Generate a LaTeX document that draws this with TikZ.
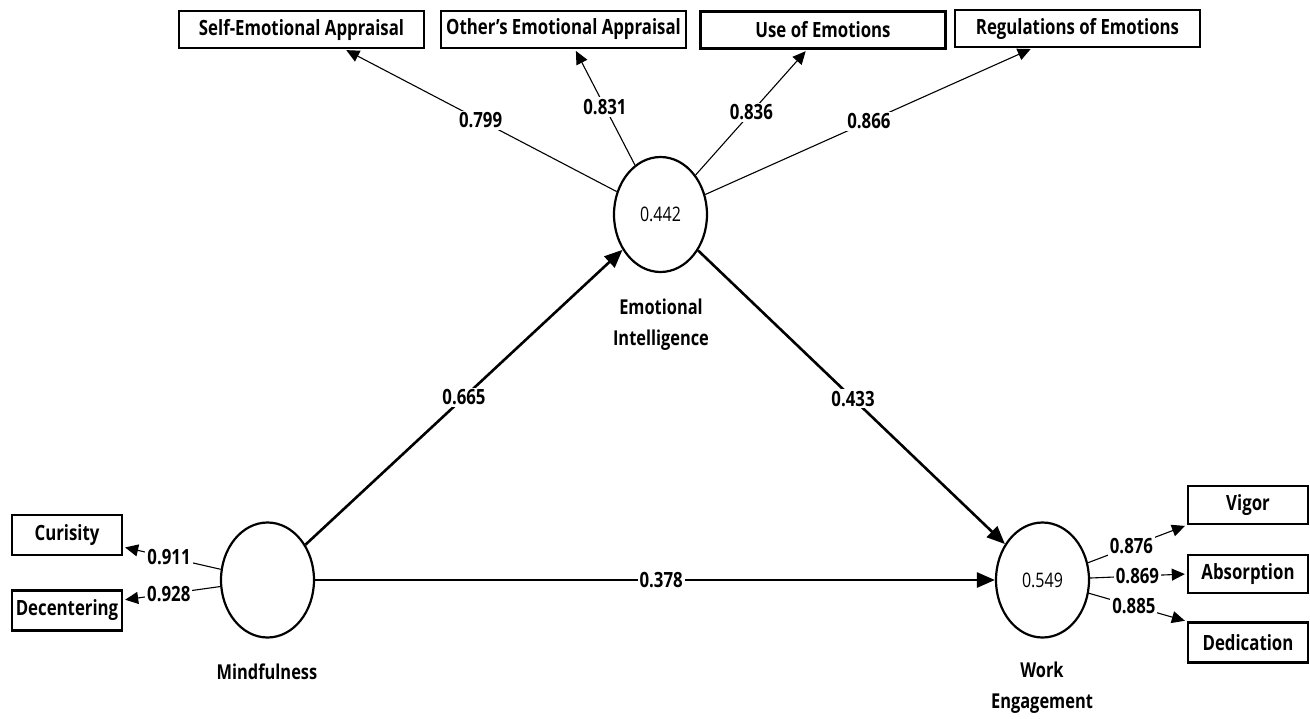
\documentclass[tikz,border=0pt]{standalone}
\usepackage{fontspec}
\setmainfont{Open Sans}[FakeStretch=0.8]
\usetikzlibrary{shapes.geometric,arrows.meta}
\tikzset{
  ind/.style={draw, line width=2.4pt, minimum width=245pt, minimum height=37pt, inner sep=0pt,
    font=\bfseries\fontsize{21}{24}\selectfont},
  sbox/.style={ind, minimum width=110pt, minimum height=40pt},
  rbox/.style={ind, minimum width=120pt, minimum height=38pt},
  lv/.style={draw, ellipse, line width=2.2pt, minimum width=93pt, minimum height=115pt, inner sep=0pt,
    font=\fontsize{20}{22}\selectfont},
  lvcap/.style={align=center, font=\bfseries\fontsize{20.5}{31}\selectfont},
  load/.style={line width=1.1pt, -{Triangle[length=13pt,width=12pt]}, shorten >=2pt},
  spath/.style={line width=2.6pt, -{Triangle[length=18pt,width=15pt]}},
  lbl/.style={fill=white, inner sep=2pt, font=\bfseries\fontsize{21}{24}\selectfont},
}
\begin{document}
\begin{tikzpicture}[x=1pt,y=-1pt]
\useasboundingbox (0,0) rectangle (1310,718);
% indicator boxes
\node[ind] (sea) at (301.5,29.5) {Self-Emotional Appraisal};
\node[ind] (oea) at (563.5,29.5) {Other’s Emotional Appraisal};
\node[ind] (uoe) at (823,30) {Use of Emotions};
\node[ind] (roe) at (1077.5,28.5) {Regulations of Emotions};
\node[sbox] (cur) at (67,535) {Curisity};
\node[sbox] (dec) at (67,610.5) {Decentering};
\node[rbox] (vig) at (1248,505) {Vigor};
\node[rbox] (abs) at (1248,574) {Absorption};
\node[rbox, minimum height=40pt] (ded) at (1248,642.5) {Dedication};
% latent variables
\node[lv] (ei) at (660.5,214.5) {0.442};
\node[lv] (mf) at (267.5,580) {};
\node[lv] (we) at (1042.5,580) {0.549};
% captions
\node[lvcap] (eil) at (661,325) {Emotional\\Intelligence};
\node[lvcap] (mfl) at (267,672) {Mindfulness};
\node[lvcap] (wel) at (1042,688) {Work\\Engagement};
% loadings
\draw[load] (ei) -- node[lbl,pos=0.5] {0.799} ([xshift=43pt]sea.south);
\draw[load] (ei) -- node[lbl,pos=0.5] {0.831} ([xshift=11.5pt]oea.south);
\draw[load] (ei) -- node[lbl,pos=0.5] {0.836} ([xshift=-16pt]uoe.south);
\draw[load] (ei) -- node[lbl,pos=0.5] {0.866} ([xshift=-45pt]roe.south);
\draw[load] (mf) -- node[lbl,pos=0.53] {0.911} ([yshift=-12pt]cur.east);
\draw[load] (mf) -- node[lbl,pos=0.53] {0.928} ([yshift=10.5pt]dec.east);
\draw[load] (we) -- node[lbl,pos=0.44] {0.876} (vig.south west);
\draw[load] (we) -- node[lbl,pos=0.49] {0.869} (abs.west);
\draw[load] (we) -- node[lbl,pos=0.46] {0.885} (ded.north west);
% structural paths
\draw[spath] (mf) -- node[lbl,pos=0.5] {0.665} (ei);
\draw[spath] (ei) -- node[lbl,pos=0.505] {0.433} (we);
\draw[spath] (mf) -- node[lbl,pos=0.509] {0.378} (we);
\end{tikzpicture}
\end{document}
